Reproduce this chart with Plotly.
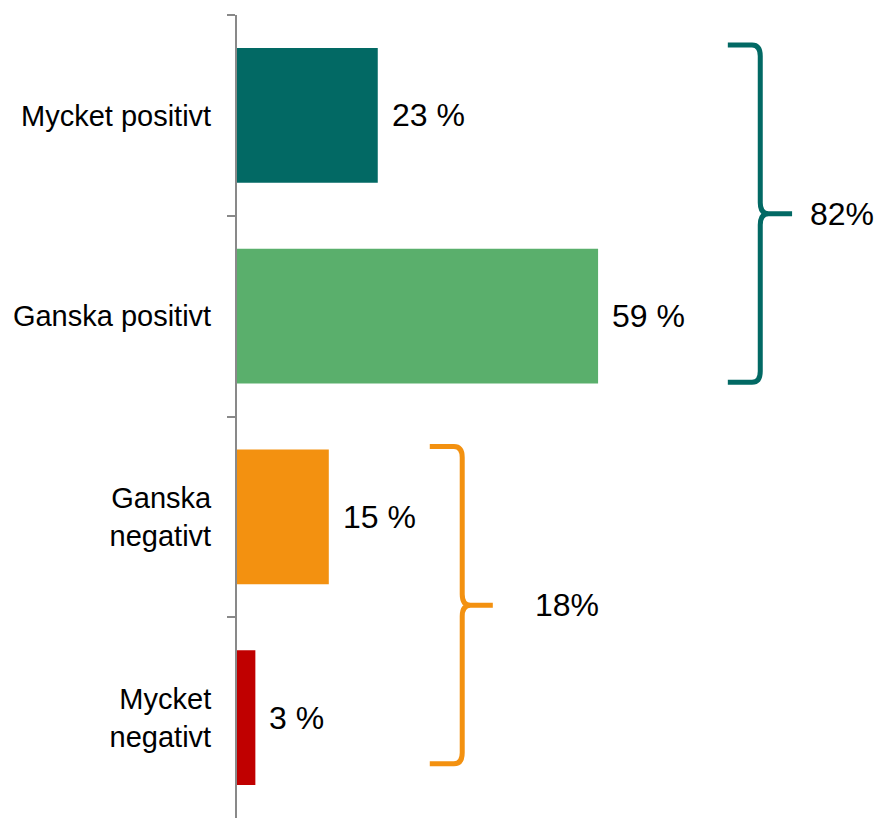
import plotly.graph_objects as go

# ---- data ----
categories = ["Mycket positivt", "Ganska positivt", "Ganska<br>negativt", "Mycket<br>negativt"]
values = [23, 59, 15, 3]
bar_colors = ["#026964", "#5AAF6C", "#F39110", "#C00000"]

group_members = [[0, 1], [2, 3]]
group_colors = ["#026964", "#F39110"]

# ---- brace styling (positions in x data units / category units) ----
brace_style = [
    dict(x_arm=80.2, x_vert=85.5, x_tip=90.7, c_top=-0.35, c_bot=1.33, label_x=93.3),
    dict(x_arm=31.5, x_vert=36.8, x_tip=41.8, c_top=1.65, c_bot=3.23, label_x=48.3),
]

FONT = "Liberation Sans, Arial, sans-serif"
W, H = 874, 818
M_L, M_R, M_T, M_B = 237, 25, 15, 0
n_cat = len(categories)
plot_h = H - M_T - M_B


def cat_to_paper(c):
    # reversed category axis: index 0 at top
    return 1 - (c + 0.5) / n_cat


fig = go.Figure()
fig.add_trace(go.Bar(
    y=categories, x=values, orientation="h",
    marker=dict(color=bar_colors, line=dict(width=0)),
    hoverinfo="skip",
))

# value labels
for cat, v in zip(categories, values):
    fig.add_annotation(
        x=v, y=cat, xref="x", yref="y", text=f"{v} %", showarrow=False,
        xanchor="left", yanchor="middle", xshift=12,
        font=dict(family=FONT, size=32, color="#000000"),
    )

# braces
rx = 1.35
ry = 11 / plot_h
for members, col, st in zip(group_members, group_colors, brace_style):
    total = sum(values[i] for i in members)
    yt = cat_to_paper(st["c_top"])
    yb = cat_to_paper(st["c_bot"])
    ym = (yt + yb) / 2
    xa, xv, xt = st["x_arm"], st["x_vert"], st["x_tip"]
    path = (
        f"M {xa},{yt} L {xv - rx},{yt} Q {xv},{yt} {xv},{yt - ry} "
        f"L {xv},{ym + ry} Q {xv},{ym} {xv + rx},{ym} L {xt},{ym} "
        f"L {xv + rx},{ym} Q {xv},{ym} {xv},{ym - ry} "
        f"L {xv},{yb + ry} Q {xv},{yb} {xv - rx},{yb} L {xa},{yb}"
    )
    fig.add_shape(type="path", path=path, xref="x", yref="paper",
                  line=dict(color=col, width=5), fillcolor="rgba(0,0,0,0)")
    fig.add_annotation(
        x=st["label_x"], y=ym, xref="x", yref="paper", text=f"{total}%",
        showarrow=False, xanchor="left", yanchor="middle",
        font=dict(family=FONT, size=32, color="#000000"),
    )

fig.update_layout(
    width=W, height=H,
    margin=dict(l=M_L, r=M_R, t=M_T, b=M_B, pad=0),
    plot_bgcolor="white", paper_bgcolor="white",
    showlegend=False, bargap=0.328,
    font=dict(family=FONT, color="#000000"),
    xaxis=dict(range=[0, 100], visible=False, showgrid=False, zeroline=False, fixedrange=True),
    yaxis=dict(
        type="category", categoryorder="array", categoryarray=categories,
        autorange="reversed", tickson="boundaries",
        showline=True, linecolor="#898989", linewidth=2,
        ticks="outside", ticklen=8, tickwidth=2, tickcolor="#898989",
        showgrid=False, zeroline=False,
        tickfont=dict(family=FONT, size=29, color="#000000"),
        ticklabelstandoff=18,
    ),
)

fig.write_html(
    "out.html",
    config={"displayModeBar": False},
    post_script="document.body.style.margin='0';document.body.style.overflow='hidden';",
)
